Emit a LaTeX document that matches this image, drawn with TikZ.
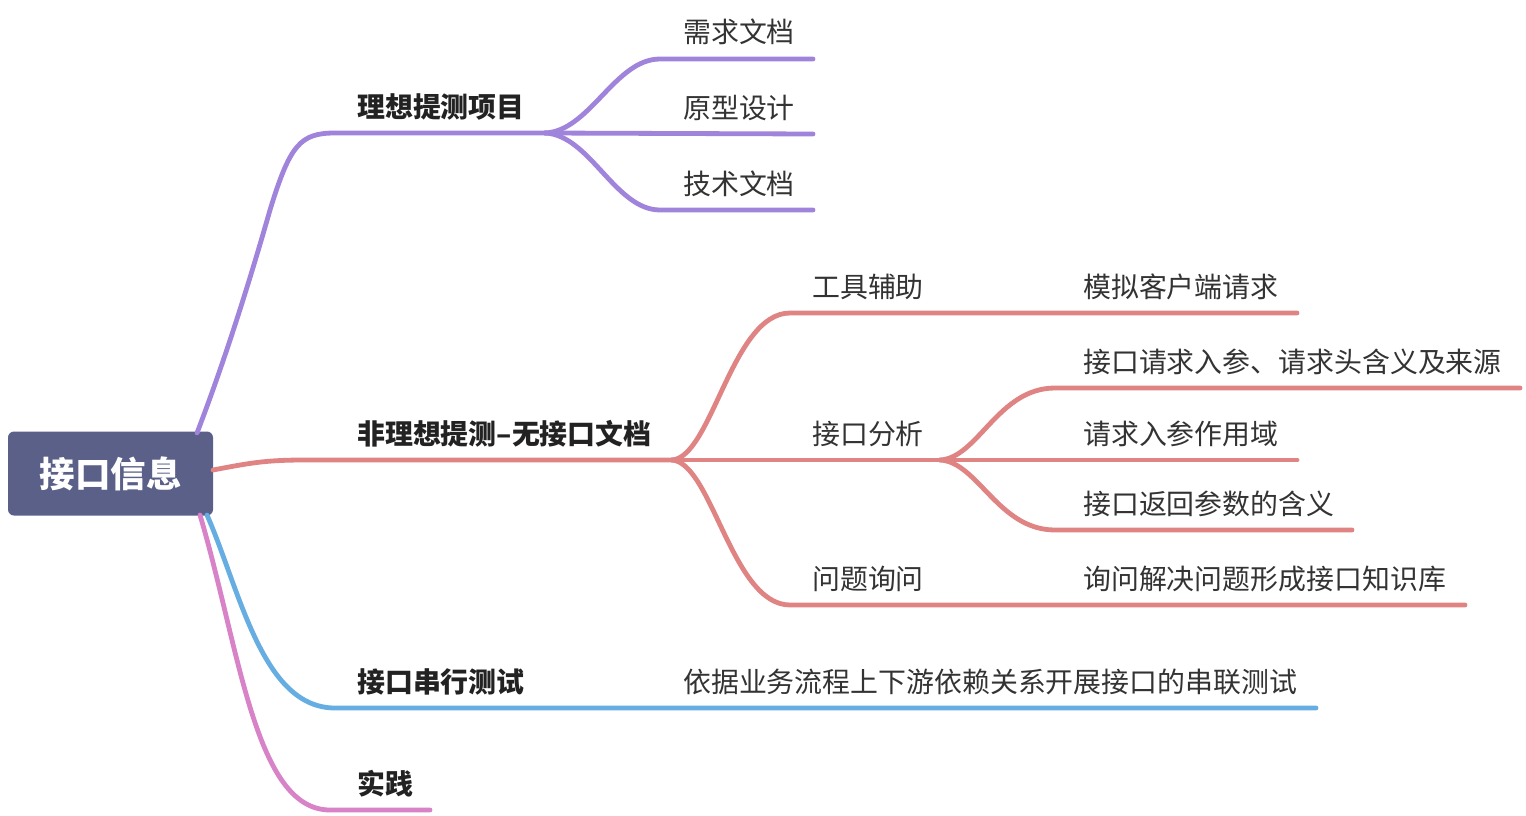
\documentclass[tikz,border=0pt]{standalone}
\usepackage{fontspec}
\setmainfont{Noto Sans CJK SC}
\definecolor{rootc}{RGB}{90,96,136}
\definecolor{purp}{RGB}{160,132,220}
\definecolor{redc}{RGB}{224,131,131}
\definecolor{bluec}{RGB}{102,174,226}
\definecolor{pinkc}{RGB}{216,130,200}
\definecolor{txt}{RGB}{51,51,51}
\definecolor{txtb}{RGB}{34,34,34}
\begin{document}
\begin{tikzpicture}[x=1pt,y=-1pt,
  br/.style={line width=4.8pt,line cap=round},
  lab/.style={anchor=base west,inner sep=0pt,text=txt,font=\fontsize{27.9}{32}\selectfont},
  blab/.style={anchor=base west,inner sep=0pt,text=txtb,font=\fontsize{27.9}{32}\selectfont\bfseries},
  rootbox/.style={fill=rootc,rounded corners=6pt,minimum width=205pt,minimum height=84pt,inner sep=0pt,text=white,font=\fontsize{35.5}{40}\selectfont\bfseries}]
\useasboundingbox[fill=white] (0,0) rectangle (1526,816);

% root
\node[rootbox] (root) at (110.5,473.5) {接口信息};

% coordinates
\coordinate (rP) at (197,433);
\coordinate (rR) at (213,470);
\coordinate (rB) at (207,515);
\coordinate (rK) at (200,515);

\coordinate (p1s) at (335,133);
\coordinate (pJ) at (545,133);
\coordinate (pa) at (660,59);
\coordinate (pae) at (813,59);
\coordinate (pbe) at (813,134);
\coordinate (pc) at (660,210);
\coordinate (pce) at (813,210);

\coordinate (r1s) at (305,460);
\coordinate (rJ) at (672,460);
\coordinate (ra) at (790,313);
\coordinate (rae) at (1297,313);
\coordinate (rJ2) at (940,460);
\coordinate (rba) at (1055,388);
\coordinate (rbae) at (1520,388);
\coordinate (rbbe) at (1297,460);
\coordinate (rbc) at (1055,530);
\coordinate (rbce) at (1352,530);
\coordinate (rc) at (790,605);
\coordinate (rce) at (1465,605);

\coordinate (b1s) at (335,708);
\coordinate (b1e) at (1316,708);
\coordinate (k1s) at (330,810);
\coordinate (k1e) at (430,810);

% purple branch
\draw[br,purp] (rP) .. controls (225,360) and (250,280) .. (270,210)
  .. controls (290,145) and (300,133) .. (p1s) -- (pJ);
\draw[br,purp] (pJ) .. controls (590,131) and (615,59) .. (pa) -- (pae);
\draw[br,purp] (pJ) -- (pbe);
\draw[br,purp] (pJ) .. controls (590,135) and (615,210) .. (pc) -- (pce);

% red branch
\draw[br,redc] (rR) .. controls (250,463) and (265,460) .. (r1s) -- (rJ);
\draw[br,redc] (rJ) .. controls (712,457) and (732,313) .. (ra) -- (rae);
\draw[br,redc] (rJ) -- (rJ2);
\draw[br,redc] (rJ) .. controls (712,463) and (732,605) .. (rc) -- (rce);
\draw[br,redc] (rJ2) .. controls (978,458) and (998,388) .. (rba) -- (rbae);
\draw[br,redc] (rJ2) -- (rbbe);
\draw[br,redc] (rJ2) .. controls (978,462) and (998,530) .. (rbc) -- (rbce);

% blue branch
\draw[br,bluec] (rB) .. controls (240,590) and (262,708) .. (b1s) -- (b1e);

% pink branch
\draw[br,pinkc] (rK) .. controls (240,650) and (255,810) .. (k1s) -- (k1e);

% labels
\node[blab] (l1) at (357,117) {理想提测项目};
\node[lab] (l1a) at (683,43) {需求文档};
\node[lab] (l1b) at (683,118) {原型设计};
\node[lab] (l1c) at (683,194) {技术文档};

\node[blab] (l2) at (357,444) {非理想提测–无接口文档};
\node[lab] (l2a) at (812,297) {工具辅助};
\node[lab] (l2a1) at (1083,297) {模拟客户端请求};
\node[lab] (l2b) at (812,444) {接口分析};
\node[lab] (l2b1) at (1083,372) {接口请求入参、请求头含义及来源};
\node[lab] (l2b2) at (1083,444) {请求入参作用域};
\node[lab] (l2b3) at (1083,514) {接口返回参数的含义};
\node[lab] (l2c) at (812,589) {问题询问};
\node[lab] (l2c1) at (1083,589) {询问解决问题形成接口知识库};

\node[blab] (l3) at (357,692) {接口串行测试};
\node[lab] (l3a) at (683,692) {依据业务流程上下游依赖关系开展接口的串联测试};

\node[blab] (l4) at (357,794) {实践};
\end{tikzpicture}
\end{document}
